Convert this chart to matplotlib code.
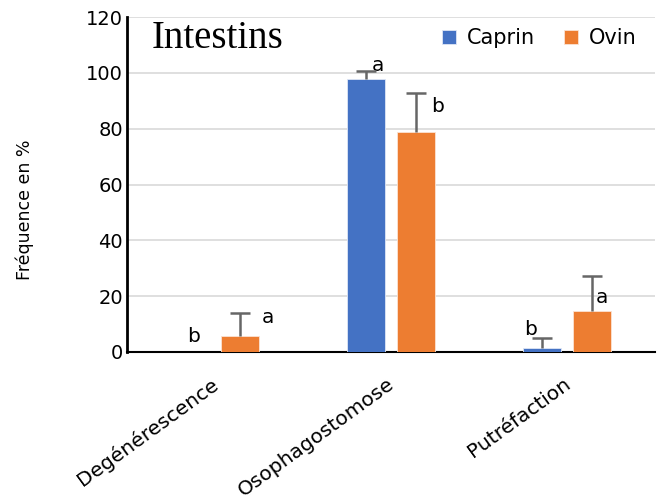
import numpy as np
import matplotlib
matplotlib.use("Agg")
import matplotlib.pyplot as plt
from matplotlib.transforms import ScaledTranslation

categories = ["Degénérescence", "Osophagostomose", "Putréfaction"]
caprin = [0.0, 97.8, 1.5]
ovin = [5.8, 78.7, 14.8]
caprin_err = [0.0, 3.0, 3.5]
ovin_err = [8.2, 14.0, 12.5]
caprin_letters = ["b", "a", "b"]
ovin_letters = ["a", "b", "a"]

blue = "#4472C4"
orange = "#ED7D31"
err_col = "#666666"
font = ["DejaVu Sans"]

fig = plt.figure(figsize=(6.59, 5.04), dpi=100)
ax = fig.add_axes([0.1927, 0.3016, 0.8013, 0.6644])

x = np.arange(len(categories))
w = 0.22
off = 0.142

ax.bar(x - off, caprin, w, color=blue, edgecolor="#dfe6f5", linewidth=0.6, label="Caprin", zorder=3)
ax.bar(x + off, ovin, w, color=orange, edgecolor="#fbe3d3", linewidth=0.6, label="Ovin", zorder=3)


def upper_errorbars(xpos, vals, errs):
    """Draw one-sided (upward) error bars only where an error exists."""
    xpos = np.asarray(xpos)
    vals = np.asarray(vals)
    errs = np.asarray(errs)
    keep = errs > 0
    _, caps, _ = ax.errorbar(xpos[keep], vals[keep],
                             yerr=[np.zeros(keep.sum()), errs[keep]],
                             fmt="none", ecolor=err_col, elinewidth=1.8,
                             capsize=7, capthick=1.8, zorder=4)
    caps[0].set_visible(False)


upper_errorbars(x - off, caprin, caprin_err)
upper_errorbars(x + off, ovin, ovin_err)

# significance letters next to each bar
lkw = dict(fontsize=14.5, family=font, ha="center", va="center")
ax.text(x[0] - off + 0.023, caprin[0] + 5.4, caprin_letters[0], **lkw)
ax.text(x[0] + off + 0.159, ovin[0] + 6.4, ovin_letters[0], **lkw)
ax.text(x[1] - off + 0.068, caprin[1] + 4.7, caprin_letters[1], **lkw)
ax.text(x[1] + off + 0.125, ovin[1] + 9.1, ovin_letters[1], **lkw)
ax.text(x[2] - off - 0.068, caprin[2] + 6.4, caprin_letters[2], **lkw)
ax.text(x[2] + off + 0.057, ovin[2] + 4.9, ovin_letters[2], **lkw)

ax.set_xlim(-0.5, 2.5)
ax.set_ylim(0, 120)
ax.set_yticks(np.arange(0, 121, 20))
ax.yaxis.grid(True, color="#d9d9d9", linewidth=1.2, zorder=0)
ax.set_axisbelow(True)

for s in ["top", "right"]:
    ax.spines[s].set_visible(False)
ax.spines["left"].set_linewidth(2.0)
ax.spines["bottom"].set_linewidth(1.5)
ax.spines["left"].set_color("black")
ax.spines["bottom"].set_color("black")

ax.tick_params(axis="y", length=0, pad=3, labelsize=14)
ax.tick_params(axis="x", length=0, pad=16, labelsize=14.5)
ax.set_xticks(x)
ax.set_xticklabels(categories, rotation=36, ha="right", rotation_mode="anchor", family=font)
shift = ScaledTranslation(-3 / 72, 0, fig.dpi_scale_trans)
for lbl in ax.get_xticklabels():
    lbl.set_transform(lbl.get_transform() + shift)
for lbl in ax.get_yticklabels():
    lbl.set_family(font)

ax.set_ylabel("Fréquence en %", fontsize=12.5, family=font)
ax.yaxis.set_label_coords(-0.176, 0.424)

ax.text(0.047, 0.907, "Intestins", transform=ax.transAxes, fontsize=28,
        family=["Liberation Serif", "DejaVu Serif"], ha="left", va="baseline")

ax.legend(loc="center right", bbox_to_anchor=(0.965, 0.937), ncol=2, frameon=False,
          prop={"family": font, "size": 15}, handlelength=0.7, handleheight=0.7,
          columnspacing=1.4, handletextpad=0.5, borderpad=0, borderaxespad=0)

fig.savefig("out.png", dpi=100)
